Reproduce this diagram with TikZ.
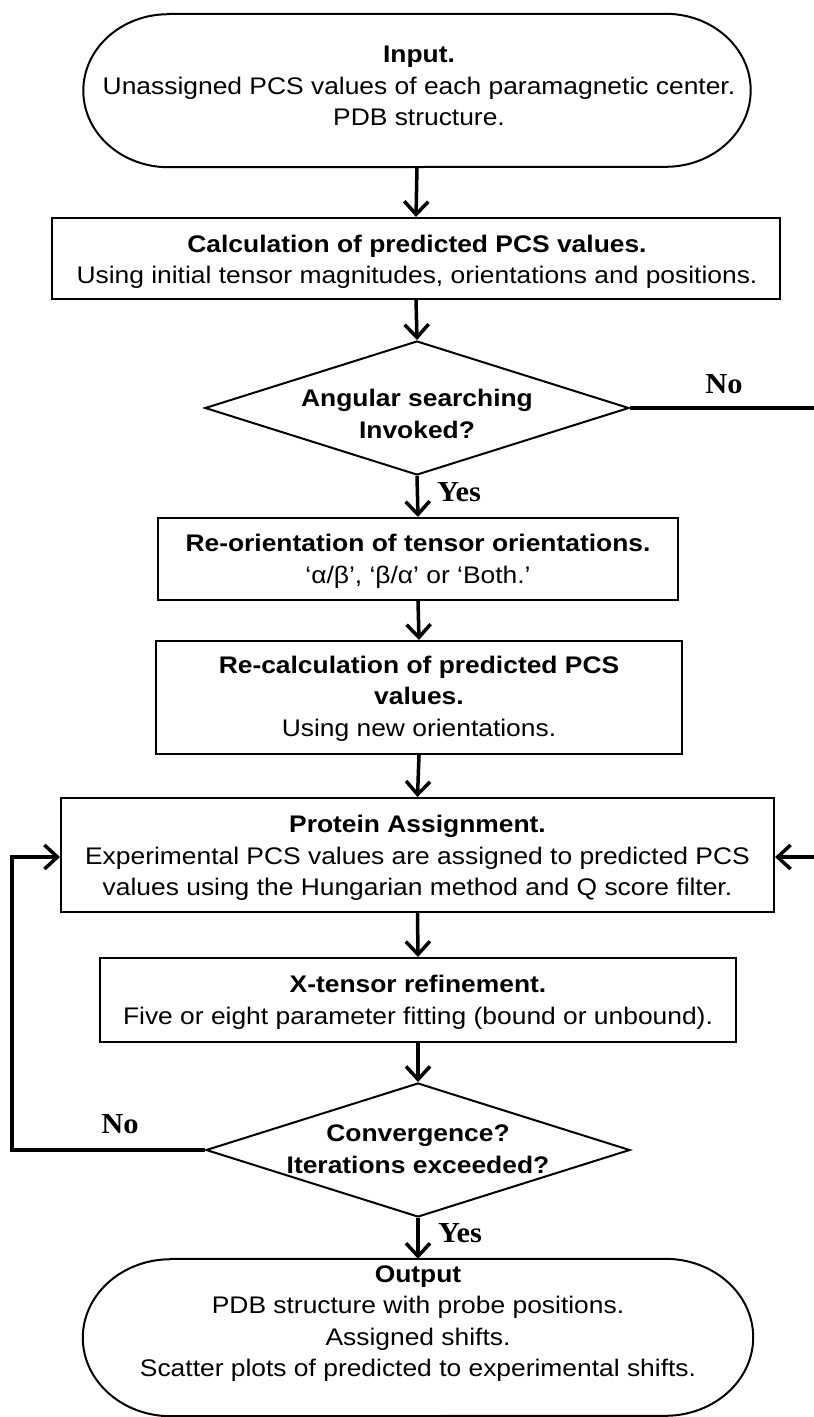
\documentclass[tikz,border=0pt]{standalone}
\usepackage{fontspec}
\setmainfont{Liberation Sans}[FakeStretch=1.1]
\newfontfamily\lblfont{Liberation Serif}[FakeStretch=1.05]
\usetikzlibrary{arrows.meta,shapes.geometric}
\tikzset{
  txt/.style={align=center, font=\fontsize{24}{31.5}\selectfont, inner sep=0pt},
  procbox/.style={draw, line width=2pt, inner sep=0pt},
  decide/.style={draw, diamond, line width=2pt, inner sep=0pt, minimum width=424pt, minimum height=134pt},
  termsh/.style={draw=none, inner sep=0pt},
  flow/.style={line width=3.5pt, -{Straight Barb[length=13pt,width=24pt]}},
  branch/.style={line width=4pt, line join=miter},
  lbl/.style={font=\lblfont\bfseries\fontsize{29}{30}\selectfont, inner sep=0pt},
}
\begin{document}
\begin{tikzpicture}[x=1pt,y=1pt]
\useasboundingbox (0,0) rectangle (814,-1417);
\clip (0,0) rectangle (814,-1417);
\fill[white] (0,0) rectangle (814,-1417);

% Input terminal
\node[termsh, minimum width=667pt, minimum height=153pt] (in) at (417,-90.5) {};
\draw[line width=2pt] ([xshift=85pt]in.north west) -- ([xshift=-85pt]in.north east)
  arc[start angle=90, end angle=-90, x radius=85pt, y radius=76.5pt]
  -- ([xshift=85pt]in.south west)
  arc[start angle=270, end angle=90, x radius=85pt, y radius=76.5pt] -- cycle;
\node[txt] (intx) at (419,-86) {\textbf{Input.}\\Unassigned PCS values of each paramagnetic center.\\PDB structure.};

% Calculation box
\node[procbox, minimum width=728pt, minimum height=81pt] (b1) at (416,-258.5) {};
\node[txt] (b1t) at (417,-262) {\textbf{Calculation of predicted PCS values.}\\Using initial tensor magnitudes, orientations and positions.};

% Diamond 1
\node[decide] (d1) at (417,-408) {};
\node[txt] (d1t) at (417,-414) {\textbf{Angular searching}\\\textbf{Invoked?}};

% Re-orientation
\node[procbox, minimum width=520pt, minimum height=82pt] (ro) at (418,-559) {};
\node[txt] (rot) at (418,-561.5) {\textbf{Re-orientation of tensor orientations.}\\‘α/β’, ‘β/α’ or ‘Both.’};

% Re-calculation
\node[procbox, minimum width=526pt, minimum height=113pt] (rc) at (419,-697.5) {};
\node[txt] (rct) at (419,-698.5) {\textbf{Re-calculation of predicted PCS}\\\textbf{values.}\\Using new orientations.};

% Protein assignment
\node[procbox, minimum width=713pt, minimum height=114pt] (pa) at (417.5,-855) {};
\node[txt] (pat) at (417.5,-858) {\textbf{Protein Assignment.}\\Experimental PCS values are assigned to predicted PCS\\values using the Hungarian method and Q score filter.};

% X-tensor
\node[procbox, minimum width=636pt, minimum height=84pt] (xt) at (418,-1000) {};
\node[txt] (xtt) at (418,-1002.5) {\textbf{X-tensor refinement.}\\Five or eight parameter fitting (bound or unbound).};

% Diamond 2
\node[decide] (d2) at (418,-1150) {};
\node[txt] (d2t) at (418,-1149) {\textbf{Convergence?}\\\textbf{Iterations exceeded?}};

% Output terminal
\node[termsh, minimum width=670pt, minimum height=157pt] (out) at (418,-1337.5) {};
\draw[line width=2pt] ([xshift=88pt]out.north west) -- ([xshift=-88pt]out.north east)
  arc[start angle=90, end angle=-90, x radius=88pt, y radius=78.5pt]
  -- ([xshift=88pt]out.south west)
  arc[start angle=270, end angle=90, x radius=88pt, y radius=78.5pt] -- cycle;
\node[txt] (outt) at (418,-1323.5) {\textbf{Output}\\PDB structure with probe positions.\\Assigned shifts.\\Scatter plots of predicted to experimental shifts.};

% main flow
\draw[flow] (in.south) -- (b1.north);
\draw[flow] (b1.south) -- (d1.north);
\draw[flow] (d1.south) -- (ro.north);
\draw[flow] (ro.south) -- (rc.north);
\draw[flow] (rc.south) -- (pa.north);
\draw[flow] (pa.south) -- (xt.north);
\draw[flow] (xt.south) -- (d2.north);
\draw[flow] (d2.south) -- (out.north);

% No branch right
\coordinate (r1) at (840,-408);
\coordinate (r2) at (840,-857);
\draw[branch] (d1.east) -- (r1) -- (r2);
\draw[flow] (r2) -- (pa.east |- r2);

% No branch left
\coordinate (l1) at (12,-1150);
\coordinate (l2) at (12,-857);
\draw[branch] (d2.west) -- (l1) -- (l2);
\draw[flow] ([xshift=-2pt]l2) -- (pa.west |- l2);

% labels
\node[lbl] (no1) at (724,-384) {No};
\node[lbl] (yes1) at (459,-492) {Yes};
\node[lbl] (no2) at (120,-1124) {No};
\node[lbl] (yes2) at (460,-1233) {Yes};
\end{tikzpicture}
\end{document}
